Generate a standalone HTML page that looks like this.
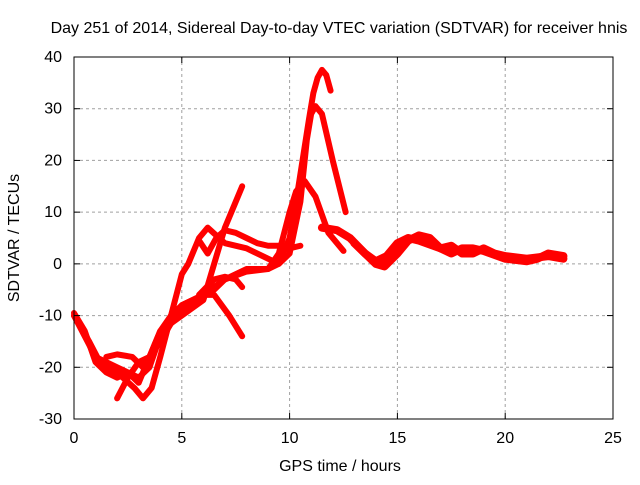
<!DOCTYPE html>
<html><head><meta charset="utf-8"><style>
body{margin:0;background:#fff}
svg{font-family:"Liberation Sans",sans-serif;font-size:16px}
</style></head><body>
<svg id="c" width="640" height="480">
<rect width="640" height="480" fill="#fff"/>
<text x="339" y="33" text-anchor="middle">Day 251 of 2014, Sidereal Day-to-day VTEC variation (SDTVAR) for receiver hnis</text>
<text x="340" y="471" text-anchor="middle">GPS time / hours</text>
<text transform="translate(19,238) rotate(-90)" text-anchor="middle">SDTVAR / TECUs</text>
<g id="grid"></g><g id="series"></g><g id="axes"></g>
</svg>
<script>
const xTicks=[0,5,10,15,20,25];
const yTicks=[-30,-20,-10,0,10,20,30,40];
const s1=[[0,-9.5],[0.5,-13],[1,-19],[1.5,-21],[2,-22],[2.5,-21],[3,-23],[3.5,-18],[4,-13],[4.5,-10],[5,-8],[5.5,-7],[6,-6],[6.5,-5],[7,-3],[7.5,-2],[8,-1],[9,-1],[9.5,0],[10,5],[10.3,12],[10.6,20],[10.9,28],[11.1,33],[11.3,36],[11.5,37.5],[11.7,36.5],[11.9,33.5]];
const s2=[[0,-10],[0.7,-15],[1.2,-19],[2,-21],[2.8,-24],[3.2,-26],[3.6,-24],[4,-18],[4.5,-10],[5,-2],[5.3,0],[5.8,5],[6.2,7],[7,4],[8,3],[9,1],[9.5,0],[10,2],[10.5,12],[10.8,24],[11,29],[11.2,30.5],[11.5,29],[12,20],[12.6,10]];
const s3=[[0,-10],[1,-18],[2,-20],[3,-22],[3.5,-20],[4,-14],[5,-9],[6,-6],[7,-3],[8,-1.5],[9,-1],[9.5,2],[10,10],[10.3,14],[10.7,16],[11.2,13],[11.8,6],[12.5,2.5]];
const s4=[[2,-26],[2.5,-22],[3,-19],[3.5,-18],[4,-13],[5,-10],[6,-7],[6.5,0],[7,7],[7.5,12],[7.8,15]];
const s5=[[1.5,-18],[2,-17.5],[2.7,-18],[3.2,-20],[4,-15],[5,-8],[6,-6],[6.5,-6],[7.2,-10],[7.8,-14]];
const s6=[[5.8,-6],[6.5,-3],[7,-2.5],[7.5,-3],[7.8,-4.5]];
const s7=[[5.8,4.5],[6.2,2],[6.6,5],[7,6.5],[7.5,6],[8,5],[8.5,4],[9,3.5],[9.5,3.5],[10,3],[10.5,3.5]];
const s8=[[11.5,7],[12.2,6.5],[12.8,5],[13.5,2],[14,0],[14.4,-0.5],[15,2],[15.5,4.5],[16,5.5],[16.5,5],[17,3],[17.5,2],[18,3],[18.5,3],[19,2.5],[20,1],[21,0.5],[21.5,1],[22,2],[22.7,1.5]];
const s9=[[13,4],[13.5,2],[14,0.5],[14.5,1.5],[15,4],[15.5,5],[16,4.5],[17,3],[17.5,3.5],[18,2],[18.5,2],[19,3],[19.5,2],[20,1.5],[21,1],[22,1.5],[22.7,1]];
const allSeries=[s1,s2,s3,s4,s5,s6,s7,s8,s9];
const X0=74,X1=613,Y0=419,Y1=57;
const xs=v=>X0+(v-0)/25*(X1-X0);
const ys=v=>Y0-(v+30)/70*(Y0-Y1);
const NS="http://www.w3.org/2000/svg";
function mk(t,a,p){const e=document.createElementNS(NS,t);for(const k in a)e.setAttribute(k,a[k]);p.appendChild(e);return e;}
const grid=document.getElementById('grid'),axes=document.getElementById('axes'),ser=document.getElementById('series');
xTicks.forEach(t=>{
 if(t>0&&t<25){const g=mk('line',{x1:xs(t),x2:xs(t),y1:Y0,y2:Y1,stroke:'#a0a0a0','stroke-dasharray':'3,3'},grid);
 
 }
 const l=mk('text',{x:xs(t),y:Y0+24,'text-anchor':'middle'},axes);l.textContent=t;
 
 
 mk('line',{x1:xs(t),x2:xs(t),y1:Y0,y2:Y0-6,stroke:'#000'},axes);
 mk('line',{x1:xs(t),x2:xs(t),y1:Y1,y2:Y1+6,stroke:'#000'},axes);
});
yTicks.forEach(t=>{
 if(t>-30&&t<40){const g=mk('line',{x1:X0,x2:X1,y1:ys(t),y2:ys(t),stroke:'#a0a0a0','stroke-dasharray':'3,3'},grid);
 
 }
 const l=mk('text',{x:X0-12,y:ys(t)+5,'text-anchor':'end'},axes);l.textContent=t;
 
 
 mk('line',{x1:X0,x2:X0+6,y1:ys(t),y2:ys(t),stroke:'#000'},axes);
 mk('line',{x1:X1,x2:X1-6,y1:ys(t),y2:ys(t),stroke:'#000'},axes);
});
const fr=mk('rect',{x:X0,y:Y1,width:X1-X0,height:Y0-Y1,fill:'none',stroke:'#000'},axes);


allSeries.forEach((s,i)=>{
 const p=mk('polyline',{points:s.map(d=>xs(d[0])+','+ys(d[1])).join(' '),fill:'none',stroke:'#ff0000','stroke-width':i>=7?8:6,'stroke-linejoin':'round','stroke-linecap':'round'},ser);
 
 
});
</script>
</body></html>
